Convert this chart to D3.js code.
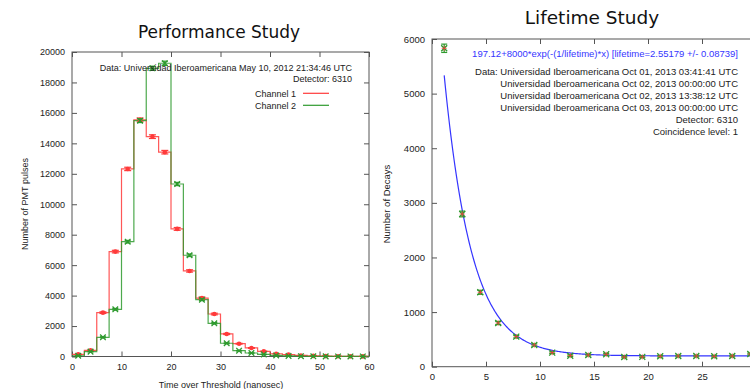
<!DOCTYPE html>
<html>
<head>
<meta charset="utf-8">
<script src="https://cdn.jsdelivr.net/npm/d3@7"></script>
<style>
  body { margin: 0; background: #fff; }
  text { font-family: "Liberation Sans", Arial, sans-serif; fill: #222; }
  .title { font-family: "DejaVu Sans", sans-serif; fill: #111; }
  .axis text { fill: #222; }
  .axis line { stroke: #555; }
</style>
</head>
<body>
<svg width="750" height="389"></svg>
<script>
// Performance Study: time over threshold histogram (2.5 ns bins)
const binCenters = [1.25, 3.75, 6.25, 8.75, 11.25, 13.75, 16.25, 18.75, 21.25, 23.75, 26.25, 28.75,
                    31.25, 33.75, 36.25, 38.75, 41.25, 43.75, 46.25, 48.75, 51.25, 53.75, 56.25, 58.75];
const channel1 = [140, 400, 2880, 6890, 12320, 15540, 14440, 13420, 8380, 5620, 3840, 2790,
                  1480, 840, 560, 340, 180, 120, 70, 40, 25, 15, 10, 8];
const channel2 = [50, 320, 1260, 3100, 7540, 15490, 18930, 19260, 11330, 6650, 3730, 2180,
                  870, 380, 230, 140, 70, 40, 20, 12, 8, 5, 4, 3];
const binWidth = 2.5;
const perfTicksX = [0, 10, 20, 30, 40, 50, 60];
const perfTicksY = [0, 2000, 4000, 6000, 8000, 10000, 12000, 14000, 16000, 18000, 20000];
const perfInfo = ["Data: Universidad Iberoamericana May 10, 2012 21:34:46 UTC", "Detector: 6310"];
const perfSeries = ["Channel 1", "Channel 2"];

// Lifetime Study: decay counts and exponential fit
const decayTimes = [1.13, 2.8, 4.47, 6.13, 7.8, 9.47, 11.13, 12.8, 14.47, 16.13, 17.8, 19.47,
                    21.13, 22.8, 24.47, 26.13, 27.8, 29.47];
const decayCounts = [5830, 2796, 1362, 800, 550, 397, 257, 202, 214, 227, 177, 180,
                     190, 196, 196, 190, 196, 232];
const fitOffset = 197.12;
const fitAmplitude = 8000;
const fitLifetime = 2.55179;
const lifeTicksX = [0, 5, 10, 15, 20, 25];
const lifeTicksY = [0, 1000, 2000, 3000, 4000, 5000, 6000];
const fitLabel = "197.12+8000*exp(-(1/lifetime)*x) [lifetime=2.55179 +/- 0.08739]";
const lifeInfo = [
  "Data: Universidad Iberoamericana Oct 01, 2013 03:41:41 UTC",
  "Universidad Iberoamericana Oct 02, 2013 00:00:00 UTC",
  "Universidad Iberoamericana Oct 02, 2013 13:38:12 UTC",
  "Universidad Iberoamericana Oct 03, 2013 00:00:00 UTC",
  "Detector: 6310",
  "Coincidence level: 1"
];

const red = "#ff3a3a";
const green = "#2e9a2e";
const blue = "#3535ff";
const frameColor = "#555";
const fmt = d3.format("d");

const svg = d3.select("svg");

// draws frame + mirrored inward ticks
function drawFrame(g, x, y, ticksX, ticksY, fontSize) {
  const [x0, x1] = x.range();
  const [y0, y1] = y.range();
  g.append("g").attr("class", "axis").attr("transform", `translate(0,${y0})`)
    .call(d3.axisBottom(x).tickValues(ticksX).tickFormat(fmt).tickSize(-5).tickPadding(7))
    .call(a => a.select(".domain").remove())
    .selectAll("text").style("font-size", fontSize + "px").style("font-family", "Liberation Sans, Arial, sans-serif");
  g.append("g").attr("class", "axis").attr("transform", `translate(0,${y1})`)
    .call(d3.axisTop(x).tickValues(ticksX).tickSize(-5).tickFormat(""))
    .call(a => a.select(".domain").remove());
  g.append("g").attr("class", "axis").attr("transform", `translate(${x0},0)`)
    .call(d3.axisLeft(y).tickValues(ticksY).tickFormat(fmt).tickSize(-5).tickPadding(7))
    .call(a => a.select(".domain").remove())
    .selectAll("text").style("font-size", fontSize + "px").style("font-family", "Liberation Sans, Arial, sans-serif");
  g.append("g").attr("class", "axis").attr("transform", `translate(${x1},0)`)
    .call(d3.axisRight(y).tickValues(ticksY).tickSize(-5).tickFormat(""))
    .call(a => a.select(".domain").remove());
  g.append("rect")
    .attr("x", x0).attr("y", y1)
    .attr("width", x1 - x0).attr("height", y0 - y1)
    .attr("fill", "none").attr("stroke", frameColor).attr("stroke-width", 1);
}

function errorBar(g, x, y, cx, val, err, color, cap) {
  g.append("line")
    .attr("x1", x(cx)).attr("x2", x(cx))
    .attr("y1", y(val - err)).attr("y2", y(val + err))
    .attr("stroke", color).attr("stroke-width", 1.2);
  [val - err, val + err].forEach(v => {
    g.append("line")
      .attr("x1", x(cx) - cap).attr("x2", x(cx) + cap)
      .attr("y1", y(v)).attr("y2", y(v))
      .attr("stroke", color).attr("stroke-width", 1.2);
  });
}

function crossMark(g, px, py, s, color) {
  g.append("path")
    .attr("d", `M${px - s},${py - s}L${px + s},${py + s}M${px - s},${py + s}L${px + s},${py - s}`)
    .attr("stroke", color).attr("stroke-width", 1.3).attr("fill", "none");
}

// ---------- Performance Study ----------
(() => {
  const g = svg.append("g");
  const x = d3.scaleLinear().domain([0, 60]).range([72, 369]);
  const y = d3.scaleLinear().domain([0, 20000]).range([356.5, 52]);

  drawFrame(g, x, y, perfTicksX, perfTicksY, 9);

  const stepLine = d3.line().x(d => x(d[0])).y(d => y(d[1])).curve(d3.curveStepAfter);
  const stepPoints = (vals) => {
    const pts = binCenters.map((c, i) => [c - binWidth / 2, vals[i]]);
    pts.push([binCenters[binCenters.length - 1] + binWidth / 2, vals[vals.length - 1]]);
    return pts;
  };

  g.append("path").attr("d", stepLine(stepPoints(channel1)))
    .attr("fill", "none").attr("stroke", red).attr("stroke-width", 1.2).attr("stroke-opacity", 0.85);
  g.append("path").attr("d", stepLine(stepPoints(channel2)))
    .attr("fill", "none").attr("stroke", green).attr("stroke-width", 1.2).attr("stroke-opacity", 0.85);

  binCenters.forEach((c, i) => {
    errorBar(g, x, y, c, channel1[i], Math.sqrt(channel1[i]), red, 3.5);
    g.append("circle").attr("cx", x(c)).attr("cy", y(channel1[i])).attr("r", 2.3).attr("fill", red);
  });
  binCenters.forEach((c, i) => {
    errorBar(g, x, y, c, channel2[i], Math.sqrt(channel2[i]), green, 3);
    crossMark(g, x(c), y(channel2[i]), 2.8, green);
  });

  // key
  g.selectAll(".info").data(perfInfo).enter().append("text")
    .attr("x", 352).attr("y", (d, i) => 70.5 + i * 11.3)
    .attr("text-anchor", "end").style("font-size", "9px").text(d => d);
  const keyColors = [red, green];
  perfSeries.forEach((s, i) => {
    g.append("text").attr("x", 296).attr("y", 96.5 + i * 12)
      .attr("text-anchor", "end").style("font-size", "9px").text(s);
    g.append("line").attr("x1", 303).attr("x2", 329)
      .attr("y1", 93.3 + i * 12).attr("y2", 93.3 + i * 12)
      .attr("stroke", keyColors[i]).attr("stroke-width", 1.2);
  });

  svg.append("text").attr("class", "title").attr("x", 219).attr("y", 37.5)
    .attr("text-anchor", "middle").style("font-size", "17px").text("Performance Study");
  svg.append("text").attr("x", 221).attr("y", 388)
    .attr("text-anchor", "middle").style("font-size", "9px").text("Time over Threshold (nanosec)");
  svg.append("text").attr("transform", "translate(28,204) rotate(-90)")
    .attr("text-anchor", "middle").style("font-size", "9px").text("Number of PMT pulses");
})();

// ---------- Lifetime Study ----------
(() => {
  const g = svg.append("g");
  const x = d3.scaleLinear().domain([0, 30]).range([432, 756]);
  const y = d3.scaleLinear().domain([0, 6000]).range([366.7, 39]);

  drawFrame(g, x, y, lifeTicksX, lifeTicksY, 9.5);

  const fitX = d3.range(decayTimes[0], 30.01, 0.1);
  const fitLine = d3.line()
    .x(d => x(d))
    .y(d => y(fitOffset + fitAmplitude * Math.exp(-d / fitLifetime)));
  g.append("path").attr("d", fitLine(fitX))
    .attr("fill", "none").attr("stroke", blue).attr("stroke-width", 1.2);

  decayTimes.forEach((t, i) => {
    const v = decayCounts[i];
    errorBar(g, x, y, t, v, Math.sqrt(v), green, 3);
    crossMark(g, x(t), y(v), 3, green);
    const px = x(t), py = y(v);
    g.append("path").attr("d", `M${px - 2.5},${py}L${px + 2.5},${py}M${px},${py - 2.5}L${px},${py + 2.5}`)
      .attr("stroke", red).attr("stroke-width", 1).attr("stroke-opacity", 0.8);
  });

  g.append("text").attr("x", 738).attr("y", 56.8)
    .attr("text-anchor", "end").style("font-size", "9.5px").style("fill", blue).text(fitLabel);
  g.selectAll(".info").data(lifeInfo).enter().append("text")
    .attr("x", 738).attr("y", (d, i) => 74.5 + i * 12.1)
    .attr("text-anchor", "end").style("font-size", "9.5px").text(d => d);

  svg.append("text").attr("class", "title").attr("x", 592).attr("y", 24)
    .attr("text-anchor", "middle").style("font-size", "18.5px").text("Lifetime Study");
  svg.append("text").attr("transform", "translate(390,204) rotate(-90)")
    .attr("text-anchor", "middle").style("font-size", "9.5px").text("Number of Decays");
})();
</script>
</body>
</html>
